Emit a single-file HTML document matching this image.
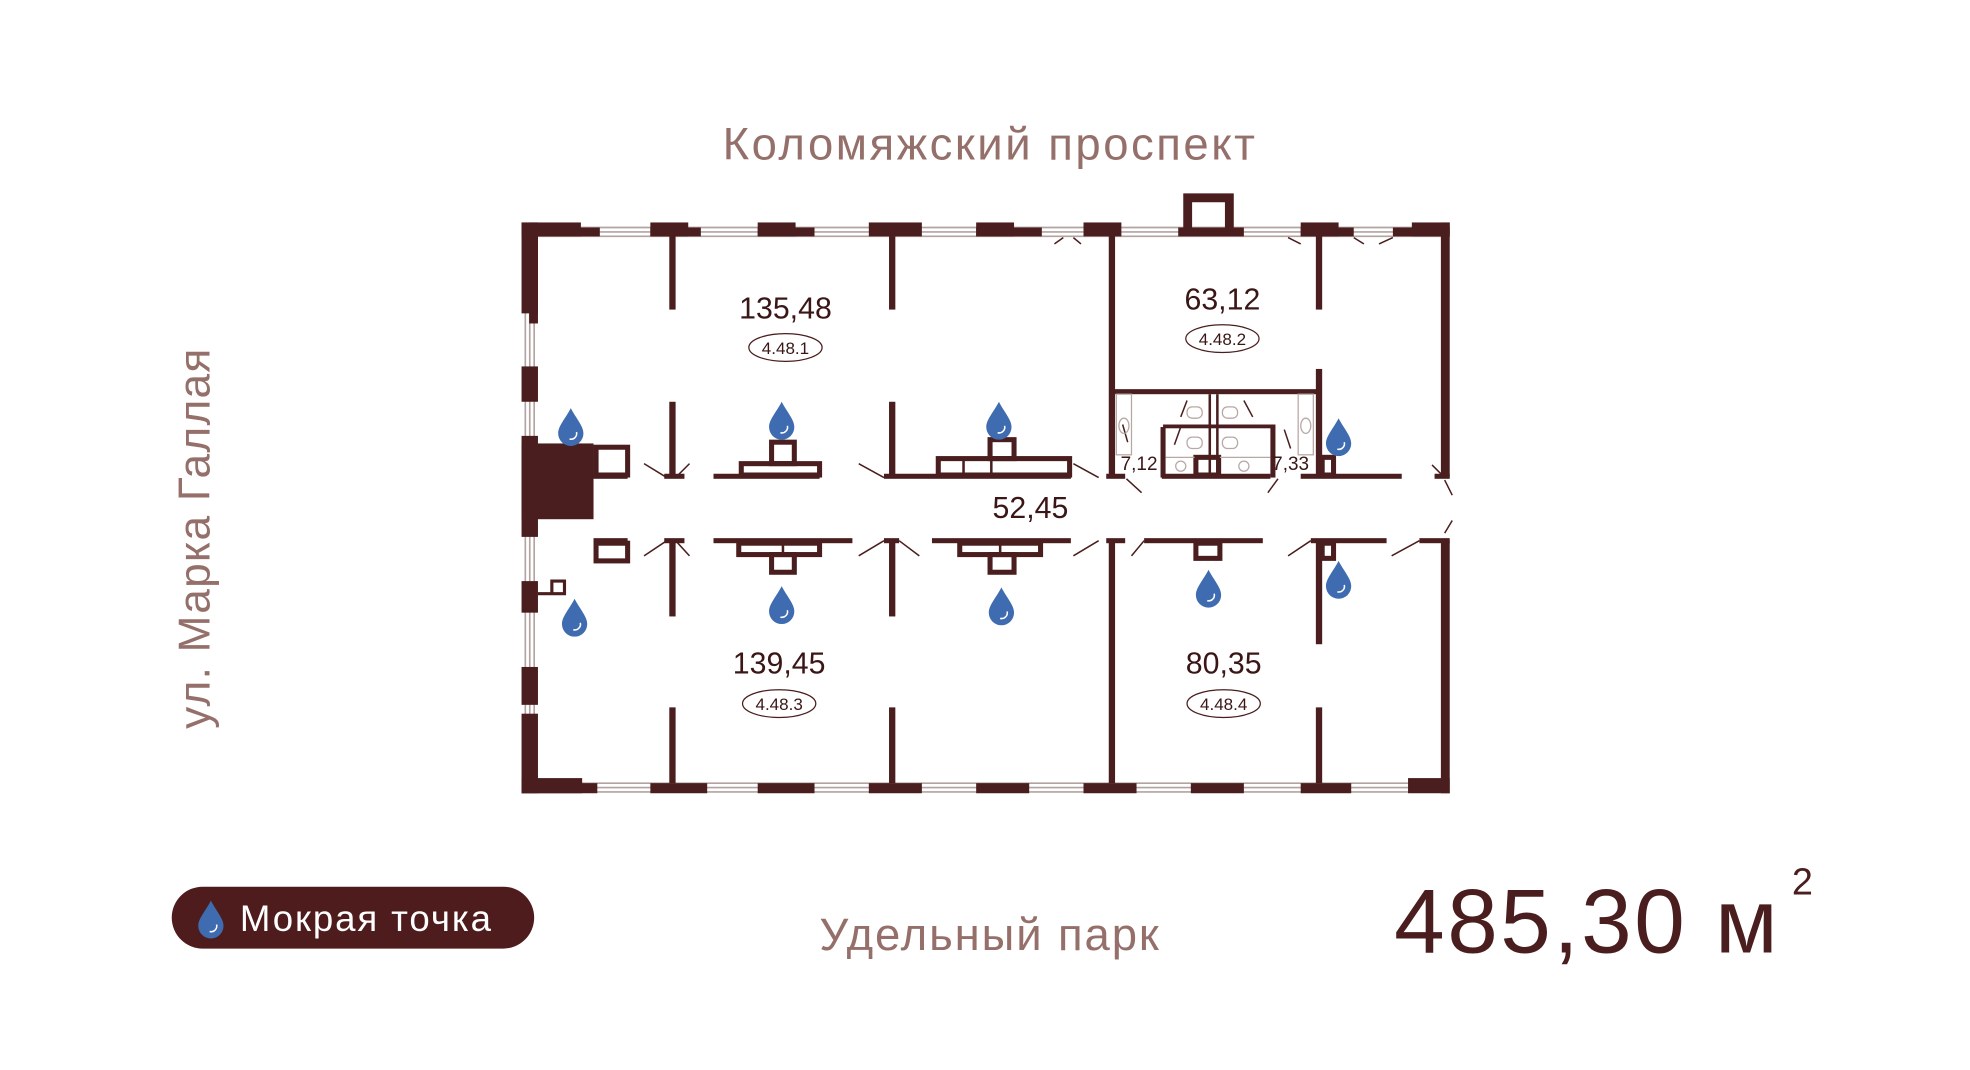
<!DOCTYPE html>
<html><head><meta charset="utf-8"><style>
html,body{margin:0;padding:0;background:#fff;}
svg{display:block;}
</style></head><body>
<svg width="1970" height="1070" viewBox="0 0 1560 847" xmlns="http://www.w3.org/2000/svg">
<defs>
<g id="drop">
<path d="M0,-15 C4,-7 10,-1 10,5 A10,10 0 0 1 -10,5 C-10,-1 -4,-7 0,-15Z" fill="#3f6cb0"/>
<path d="M4.5,4 A4.5,4.5 0 0 1 -1,9.5" stroke="#fff" stroke-width="1.2" fill="none"/>
</g>
</defs>
<rect width="1560" height="847" fill="#fff"/>
<g font-family="Liberation Sans, DejaVu Sans, sans-serif">
<text x="784" y="126" text-anchor="middle" font-size="36" letter-spacing="2" fill="#95706b">Коломяжский проспект</text>
<text x="784" y="752" text-anchor="middle" font-size="36" letter-spacing="1.5" fill="#95706b">Удельный парк</text>
<text transform="translate(166,426) rotate(-90)" text-anchor="middle" font-size="35" letter-spacing="1" fill="#95706b">ул. Марка Галлая</text>
</g>

<g stroke="#b3a3a0" stroke-width="1.3" fill="none">
<line x1="413" y1="180" x2="1148" y2="180"/><line x1="413" y1="183.5" x2="1148" y2="183.5"/><line x1="413" y1="187" x2="1148" y2="187"/>
<line x1="413" y1="620" x2="1148" y2="620"/><line x1="413" y1="623.5" x2="1148" y2="623.5"/><line x1="413" y1="627" x2="1148" y2="627"/>
<line x1="416" y1="180" x2="416" y2="628"/><line x1="419.5" y1="180" x2="419.5" y2="628"/><line x1="423" y1="180" x2="423" y2="628"/>
</g>
<g fill="#4a1e1e">
<rect x="413" y="176" width="47" height="11"/><rect x="413" y="180" width="62" height="7"/>
<rect x="515" y="176" width="30" height="11"/><rect x="515" y="180" width="40" height="7"/>
<rect x="600" y="176" width="30" height="11"/><rect x="600" y="180" width="45" height="7"/>
<rect x="688" y="176" width="42" height="11"/>
<rect x="773" y="176" width="30" height="11"/><rect x="773" y="180" width="52" height="7"/>
<rect x="858" y="176" width="30" height="11"/>
<rect x="933" y="180" width="52" height="7"/>
<path d="M937,153 h40 v28 h-7 v-21 h-26 v21 h-7Z"/>
<rect x="1030" y="176" width="30" height="11"/><rect x="1030" y="180" width="42" height="7"/>
<rect x="1118" y="176" width="30" height="11"/><rect x="1103" y="180" width="45" height="7"/>
<rect x="1141" y="176" width="7" height="202"/>
<rect x="1141" y="428" width="7" height="200"/>
<rect x="413" y="620" width="60" height="8"/><rect x="413" y="616" width="48" height="12"/>
<rect x="515" y="620" width="45" height="8"/>
<rect x="600" y="620" width="45" height="8"/>
<rect x="688" y="620" width="42" height="8"/>
<rect x="773" y="620" width="42" height="8"/>
<rect x="858" y="620" width="42" height="8"/>
<rect x="943" y="620" width="42" height="8"/>
<rect x="1030" y="620" width="40" height="8"/>
<rect x="1115" y="616" width="33" height="12"/>
<rect x="413" y="176" width="13" height="72"/><rect x="419" y="176" width="7" height="80"/>
<rect x="413" y="290" width="13" height="28"/>
<rect x="413" y="345" width="13" height="80"/>
<rect x="413" y="351" width="57" height="60"/>
<rect x="413" y="460" width="13" height="25"/>
<rect x="413" y="528" width="13" height="30"/>
<rect x="413" y="565" width="13" height="63"/>
<rect x="530" y="185" width="5" height="60"/><rect x="530" y="318" width="5" height="60"/>
<rect x="530" y="428" width="5" height="60"/><rect x="530" y="560" width="5" height="60"/>
<rect x="704" y="185" width="5" height="60"/><rect x="704" y="318" width="5" height="60"/>
<rect x="704" y="428" width="5" height="60"/><rect x="704" y="560" width="5" height="60"/>
<rect x="878" y="185" width="5" height="193"/><rect x="878" y="428" width="5" height="192"/>
<rect x="1042" y="185" width="5" height="60"/><rect x="1042" y="292" width="5" height="86"/>
<rect x="1042" y="428" width="5" height="82"/><rect x="1042" y="560" width="5" height="60"/>
<rect x="470" y="375" width="27" height="4"/><rect x="526" y="375" width="16" height="4"/>
<rect x="565" y="375" width="84" height="4"/><rect x="700" y="375" width="148" height="4"/>
<rect x="876" y="375" width="15" height="4"/><rect x="920" y="375" width="86" height="4"/>
<rect x="1030" y="375" width="80" height="4"/><rect x="1136" y="375" width="12" height="4"/>
<rect x="470" y="426" width="27" height="4"/><rect x="526" y="426" width="16" height="4"/>
<rect x="565" y="426" width="110" height="4"/><rect x="700" y="426" width="12" height="4"/>
<rect x="738" y="426" width="110" height="4"/><rect x="876" y="426" width="15" height="4"/>
<rect x="906" y="426" width="94" height="4"/><rect x="1038" y="426" width="60" height="4"/>
<rect x="1124" y="426" width="24" height="4"/>
<rect x="880" y="308" width="164" height="4"/>
<rect x="919" y="338" width="4" height="40"/><rect x="1006" y="338" width="4" height="40"/>
<rect x="921" y="336" width="89" height="3"/>
<rect x="957" y="312" width="2" height="64"/><rect x="963" y="312" width="2" height="64"/>
</g>
<g fill="none" stroke="#4a1e1e">
<g stroke-width="4">
<rect x="472" y="354" width="25" height="22"/><rect x="472" y="430" width="25" height="14"/>
<rect x="587" y="367" width="62" height="9"/><rect x="611" y="350" width="18" height="17"/>
<rect x="743" y="363" width="104" height="13"/><rect x="784" y="348" width="19" height="15"/>
<rect x="585" y="430" width="64" height="9"/><rect x="611" y="439" width="18" height="14"/>
<rect x="760" y="430" width="64" height="9"/><rect x="784" y="439" width="19" height="14"/>
<rect x="947" y="430" width="19" height="12"/>
<rect x="1047" y="430" width="9" height="12"/>
<rect x="1047" y="362" width="9" height="14"/>
<rect x="947" y="362" width="18" height="14"/>
</g>
<path d="M437,470 h10 v-10 h-10 v10 M426,470 h11" stroke-width="2.5"/>
<path d="M763,363 v13 M785,363 v13 M620,430 v9 M792,430 v9" stroke-width="2"/>
<g stroke-width="1.2">
<path d="M510,367 L528,378 M546,367 L535,378 M510,440 L528,428 M546,440 L535,428"/>
<path d="M680,367 L700,378 M680,440 L700,428 M728,440 L712,428"/>
<path d="M850,367 L870,378 M850,440 L870,428 M896,440 L906,428 M904,390 L892,379"/>
<path d="M1004,390 L1012,379 M1020,440 L1038,428 M1102,440 L1124,428 M1134,368 L1144,378 M1150,392 L1144,380 M1150,412 L1144,422"/>
<path d="M842,188 L835,193 M850,188 L856,193 M1020,188 L1030,193 M1072,188 L1080,193 M1092,193 L1103,188"/>
<path d="M893,350 L889,336 M940,317 L935,330 M985,317 L992,330 M1022,355 L1017,340 M935,338 L930,352"/>
</g>
</g>
<g fill="none" stroke="#b8a8a5" stroke-width="1">
<rect x="884" y="312" width="12" height="48"/><rect x="1028" y="312" width="12" height="48"/>
<ellipse cx="890" cy="337" rx="4" ry="6"/><ellipse cx="1034" cy="337" rx="4" ry="6"/>
<rect x="940" y="322" width="12" height="9" rx="4"/><rect x="968" y="322" width="12" height="9" rx="4"/>
<rect x="940" y="346" width="12" height="9" rx="4"/><rect x="968" y="346" width="12" height="9" rx="4"/>
<circle cx="935" cy="369" r="4"/><circle cx="985" cy="369" r="4"/>
<line x1="923" y1="362" x2="946" y2="362"/><line x1="966" y1="362" x2="1006" y2="362"/>
</g>
<use href="#drop" x="452" y="338"/><use href="#drop" x="619" y="333"/><use href="#drop" x="791" y="333"/>
<use href="#drop" x="1060" y="346"/><use href="#drop" x="455" y="489"/><use href="#drop" x="619" y="479"/>
<use href="#drop" x="793" y="480"/><use href="#drop" x="957" y="466"/><use href="#drop" x="1060" y="459"/>
<g font-family="Liberation Sans, DejaVu Sans, sans-serif" fill="#3a1616" text-anchor="middle">
<text x="622" y="252" font-size="24">135,48</text>
<text x="968" y="245" font-size="24">63,12</text>
<text x="617" y="533" font-size="24">139,45</text>
<text x="969" y="533" font-size="24">80,35</text>
<text x="816" y="410" font-size="24">52,45</text>
<text x="902" y="372" font-size="15">7,12</text>
<text x="1022" y="372" font-size="15">7,33</text>
<g font-size="13.5">
<ellipse cx="622" cy="275" rx="29" ry="11" fill="none" stroke="#4a1e1e" stroke-width="1"/><text x="622" y="280">4.48.1</text>
<ellipse cx="968" cy="268" rx="29" ry="11" fill="none" stroke="#4a1e1e" stroke-width="1"/><text x="968" y="273">4.48.2</text>
<ellipse cx="617" cy="557" rx="29" ry="11" fill="none" stroke="#4a1e1e" stroke-width="1"/><text x="617" y="562">4.48.3</text>
<ellipse cx="969" cy="557" rx="29" ry="11" fill="none" stroke="#4a1e1e" stroke-width="1"/><text x="969" y="562">4.48.4</text>
</g>
</g>
<rect x="136" y="702" width="287" height="49" rx="24.5" fill="#4f1c1d"/>
<use href="#drop" x="167" y="728"/>
<text x="190" y="737" font-family="Liberation Sans, DejaVu Sans, sans-serif" font-size="29" letter-spacing="1.5" fill="#fff">Мокрая точка</text>
<text x="1104" y="754" font-family="Liberation Sans, DejaVu Sans, sans-serif" font-size="72" letter-spacing="2" fill="#4a1e1e">485,30 м</text>
<text x="1419" y="708" font-family="Liberation Sans, DejaVu Sans, sans-serif" font-size="30" fill="#4a1e1e">2</text>
</svg>
</body></html>
